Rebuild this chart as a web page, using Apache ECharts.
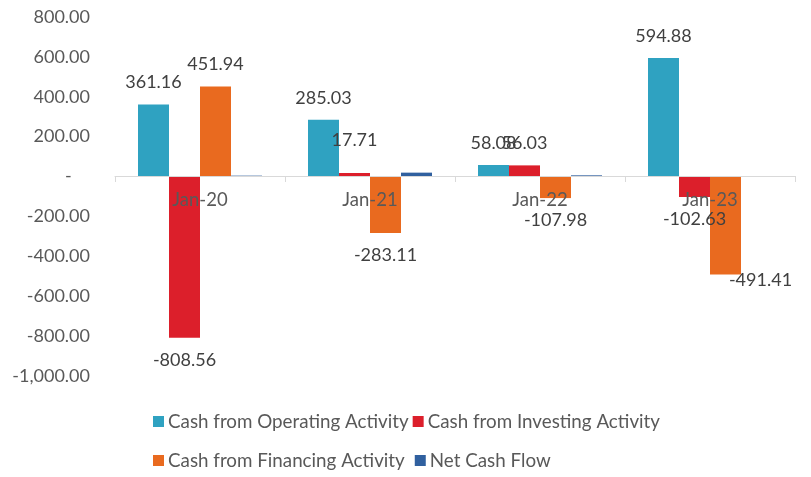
<!DOCTYPE html>
<html><head><meta charset="utf-8">
<script src="https://cdn.jsdelivr.net/npm/echarts@6/dist/echarts.min.js"></script>
<style>html,body{margin:0;padding:0;background:#fff}#c{width:811px;height:477px}</style>
</head><body><div id="c"></div>
<script>
const categories = ['Jan-20', 'Jan-21', 'Jan-22', 'Jan-23'];
const operating = [361.16, 285.03, 58.08, 594.88];
const investing = [-808.56, 17.71, 56.03, -102.63];
const financing = [451.94, -283.11, -107.98, -491.41];
const netFlow = [4.54, 19.63, 6.13, 0.84];
const seriesNames = ['Cash from Operating Activity', 'Cash from Investing Activity', 'Cash from Financing Activity', 'Net Cash Flow'];
const colors = ['#2FA2C1', '#DC1F2B', '#E96A1F', '#30609F'];

const FONT = 'Lato';
function fmt(v) {
  return v.toLocaleString('en-US', {minimumFractionDigits: 2, maximumFractionDigits: 2});
}
function mk(values, showLabel, overrides) {
  return values.map((v, i) => {
    const o = {value: v};
    if (showLabel) {
      o.label = {show: true, position: v < 0 ? 'bottom' : 'top'};
      if (overrides && overrides[i]) Object.assign(o.label, overrides[i]);
    }
    return o;
  });
}
const labelStyle = {color: '#404040', fontSize: 18, fontFamily: FONT, distance: 13, formatter: p => fmt(p.value)};

const chart = echarts.init(document.getElementById('c'), null, {renderer: 'canvas'});
chart.setOption({
  animation: false,
  color: colors,
  textStyle: {fontFamily: FONT},
  grid: {left: 115, right: 16, top: 17, bottom: 101, containLabel: false},
  legend: [
    {left: 148, top: 407, itemWidth: 11, itemHeight: 11, itemGap: 4, icon: 'rect',
     textStyle: {fontSize: 18.8, color: '#595959', fontFamily: FONT, padding: [0, 0, 0, -1]},
     data: [seriesNames[0], seriesNames[1]]},
    {left: 148, top: 446, itemWidth: 11, itemHeight: 11, itemGap: 10, icon: 'rect',
     textStyle: {fontSize: 18.8, color: '#595959', fontFamily: FONT, padding: [0, 0, 0, -1]},
     data: [seriesNames[2], seriesNames[3]]}
  ],
  xAxis: {
    type: 'category', data: categories, position: 'bottom', offset: -200,
    axisLine: {onZero: false, lineStyle: {color: '#D9D9D9', width: 1}},
    axisTick: {show: true, length: 6, lineStyle: {color: '#D9D9D9'}},
    axisLabel: {color: '#595959', fontSize: 18.5, fontFamily: FONT, margin: 15},
    z: 10, zlevel: 0
  },
  yAxis: {
    type: 'value', min: -1000, max: 800, interval: 200,
    splitLine: {show: false}, axisLine: {show: false}, axisTick: {show: false},
    axisLabel: {color: '#595959', fontSize: 18, fontFamily: FONT, margin: 25,
      formatter: v => v === 0 ? '-    ' : fmt(v)}
  },
  series: [
    {name: seriesNames[0], type: 'bar', barWidth: 31, barGap: '0%', data: mk(operating, true), label: labelStyle, z: 3},
    {name: seriesNames[1], type: 'bar', barWidth: 31, barGap: '0%', data: mk(investing, true, {1: {offset: [0, -11]}}), label: labelStyle, z: 3},
    {name: seriesNames[2], type: 'bar', barWidth: 31, barGap: '0%', data: mk(financing, true, {3: {offset: [35, -16]}}), label: labelStyle, z: 3},
    {name: seriesNames[3], type: 'bar', barWidth: 31, barGap: '0%', data: mk(netFlow, false), z: 3}
  ]
});
</script></body></html>
